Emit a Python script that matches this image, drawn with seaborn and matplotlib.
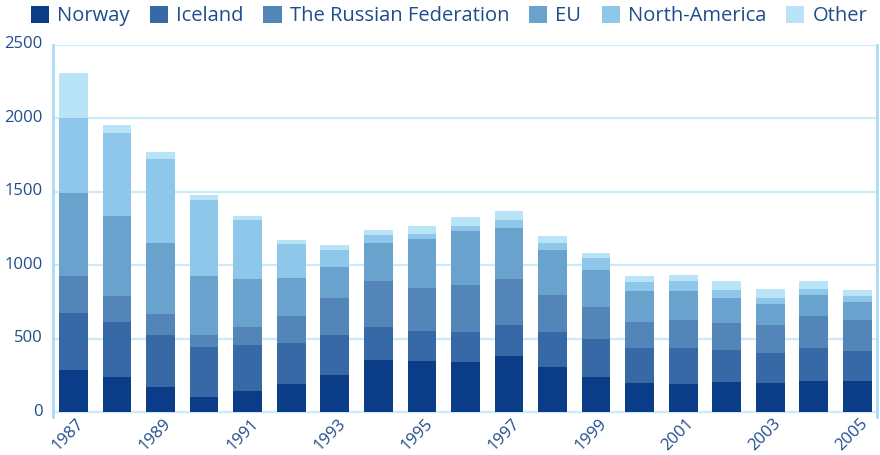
import numpy as np
import pandas as pd
import matplotlib
matplotlib.use('Agg')
import matplotlib.pyplot as plt
import matplotlib.transforms as mtransforms
from matplotlib.patches import Patch
import seaborn as sns

# Data (thousand tonnes, stacked by country)
years = list(range(1987, 2006))
norway = [288, 240, 172, 104, 145, 193, 254, 356, 349, 342, 383, 308, 240, 199, 193, 206, 199, 213, 213]
iceland = [387, 374, 353, 340, 313, 278, 271, 224, 204, 204, 211, 238, 258, 238, 244, 218, 204, 224, 204]
russia = [252, 176, 143, 81, 122, 184, 252, 313, 292, 320, 312, 252, 218, 177, 190, 183, 191, 218, 210]
eu = [564, 545, 483, 402, 326, 258, 211, 258, 333, 366, 347, 305, 252, 211, 198, 170, 142, 143, 123]
north_america = [515, 565, 571, 516, 402, 231, 115, 54, 34, 34, 55, 48, 82, 61, 68, 54, 41, 40, 41]
other = [306, 54, 48, 34, 27, 27, 34, 34, 54, 62, 61, 48, 34, 41, 41, 62, 61, 55, 40]

series_names = ['Norway', 'Iceland', 'The Russian Federation', 'EU', 'North-America', 'Other']
series_values = [norway, iceland, russia, eu, north_america, other]
colors = ['#0a3c87', '#3769a6', '#5385b8', '#68a2cd', '#8ec7e9', '#b9e4f8']

yticks = [0, 500, 1000, 1500, 2000, 2500]
xlabels = [str(y) if y % 2 == 1 else '' for y in years]

text_color = '#1f4d8b'
grid_color = '#cdeaf8'
spine_color = '#a9dcf3'

df = pd.DataFrame({'year': [str(y) for y in years]})
for name, vals in zip(series_names, series_values):
    df[name] = vals

sns.set_style('white')
plt.rcParams['font.family'] = ['Open Sans', 'DejaVu Sans']

fig = plt.figure(figsize=(8.8, 4.55), dpi=100)
ax = fig.add_axes([53 / 880, 1 - 417 / 455, (877 - 53) / 880, (417 - 45) / 455])

# stacked bars: draw cumulative totals from the top layer down
cum = df[series_names].cumsum(axis=1)
for i in range(len(series_names) - 1, -1, -1):
    sns.barplot(x=df['year'], y=cum[series_names[i]], order=df['year'].tolist(),
                color=colors[i], saturation=1, width=0.66, linewidth=0, ax=ax)

ax.set_ylim(-32, 2500)
ax.set_xlim(-0.47, len(years) - 0.55)
ax.set_yticks(yticks)
ax.set_xticks(range(len(years)))
ax.set_xticklabels(xlabels, rotation=45, ha='right', va='center',
                   rotation_mode='anchor', fontsize=12, color=text_color)
ax.set_yticklabels([str(v) for v in yticks], fontsize=12, color=text_color)
ax.set_xlabel('')
ax.set_ylabel('')

ax.set_axisbelow(True)
ax.yaxis.grid(True, color=grid_color, linewidth=1.6)
ax.xaxis.grid(False)
ax.tick_params(axis='y', length=4.5, width=1.6, color=grid_color, pad=3)
ax.tick_params(axis='x', length=0, pad=3)

for side in ['top', 'bottom']:
    ax.spines[side].set_visible(False)
for side in ['left', 'right']:
    ax.spines[side].set_color(spine_color)
    ax.spines[side].set_linewidth(2)

# nudge tick labels to sit like the reference
for lab in ax.get_xticklabels():
    lab.set_transform(lab.get_transform() + mtransforms.ScaledTranslation(6 / 72, 0, fig.dpi_scale_trans))
for lab in ax.get_yticklabels():
    lab.set_transform(lab.get_transform() + mtransforms.ScaledTranslation(0, 2 / 72, fig.dpi_scale_trans))

handles = [Patch(facecolor=c, edgecolor='none') for c in colors]
leg = fig.legend(handles, series_names, loc='center', bbox_to_anchor=((22 + 876) / 2 / 880, 1 - 16 / 455),
                 ncol=6, frameon=False, fontsize=14.5, handlelength=0.9, handleheight=0.9,
                 handletextpad=0.4, columnspacing=1.0, borderaxespad=0)
for t in leg.get_texts():
    t.set_color(text_color)

fig.savefig('out.png', dpi=100)
